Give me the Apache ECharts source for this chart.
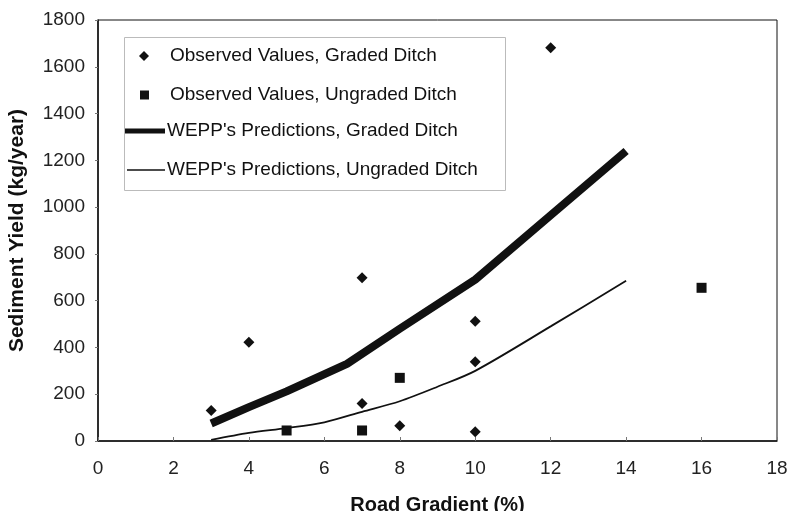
<!DOCTYPE html>
<html>
<head>
<meta charset="utf-8">
<script src="https://cdn.jsdelivr.net/npm/echarts@6/dist/echarts.min.js"></script>
<style>
html,body{margin:0;padding:0;background:#fff;}
#chart{width:791px;height:511px;}
</style>
</head>
<body>
<div id="chart"></div>
<script>
// ---- data ----
var xTicks = [0, 2, 4, 6, 8, 10, 12, 14, 16, 18];
var yTicks = [0, 200, 400, 600, 800, 1000, 1200, 1400, 1600, 1800];

var gradedObsX = [3, 4, 7, 7, 8, 10, 10, 10, 12];
var gradedObsY = [130, 422, 698, 160, 65, 512, 339, 40, 1681];

var ungradedObsX = [5, 7, 8, 16];
var ungradedObsY = [45, 45, 270, 655];

var gradedPredX = [3, 4, 5, 6.6, 8, 10, 12, 14];
var gradedPredY = [75, 145, 212, 330, 480, 690, 965, 1240];

var ungradedPredX = [3, 4, 5, 6, 7, 8, 9, 10, 12, 14];
var ungradedPredY = [5, 35, 55, 80, 125, 170, 232, 300, 490, 685];

var names = [
  'Observed Values, Graded Ditch',
  'Observed Values, Ungraded Ditch',
  "WEPP's Predictions, Graded Ditch",
  "WEPP's Predictions, Ungraded Ditch"
];

function zip(xs, ys) { return xs.map(function (x, i) { return [x, ys[i]]; }); }

var ink = '#111111';
var font = 'Liberation Sans, Arial, sans-serif';
function legText(padLeft) {
  return { color: ink, fontSize: 19, lineHeight: 20, fontFamily: font, padding: [0, 0, 0, padLeft] };
}

var chart = echarts.init(document.getElementById('chart'), null, { renderer: 'canvas' });
chart.setOption({
  backgroundColor: '#ffffff',
  animation: false,
  grid: { left: 98, right: 14, top: 20, bottom: 70, containLabel: false, outerBoundsMode: 'none',
    show: true, borderColor: ink, borderWidth: 1, backgroundColor: 'transparent' },
  xAxis: {
    type: 'value', min: 0, max: 18, interval: 2,
    name: 'Road Gradient (%)', nameLocation: 'middle', nameGap: 54,
    nameTextStyle: { color: ink, fontSize: 20, fontWeight: 'bold', fontFamily: font },
    axisLine: { lineStyle: { color: ink, width: 1.5 } },
    axisTick: { show: true, inside: true, length: 4, lineStyle: { color: '#777' } },
    axisLabel: { color: '#222', fontSize: 19, fontFamily: font, margin: 18,
      formatter: function (v) { return xTicks.indexOf(v) >= 0 ? String(v) : ''; } },
    splitLine: { show: false }
  },
  yAxis: {
    type: 'value', min: 0, max: 1800, interval: 200,
    name: 'Sediment Yield (kg/year)', nameLocation: 'middle', nameGap: 70, nameRotate: 90,
    nameTextStyle: { color: ink, fontSize: 21, fontWeight: 'bold', fontFamily: font },
    axisLine: { show: true, lineStyle: { color: ink, width: 1.5 } },
    axisTick: { show: true, length: 3, lineStyle: { color: '#777' } },
    axisLabel: { color: '#222', fontSize: 19, fontFamily: font, margin: 13,
      formatter: function (v) { return yTicks.indexOf(v) >= 0 ? String(v) : ''; } },
    splitLine: { show: false }
  },
  legend: [
    { data: [names[0]], left: 139, top: 46, padding: 0, icon: 'diamond', itemWidth: 10, itemHeight: 10,
      itemStyle: { color: ink }, textStyle: legText(16) },
    { data: [names[1]], left: 140, top: 85, padding: 0, icon: 'rect', itemWidth: 9, itemHeight: 9,
      itemStyle: { color: ink }, textStyle: legText(16) },
    { data: [names[2]], left: 125, top: 121, padding: 0, icon: 'rect', itemWidth: 40, itemHeight: 5,
      itemStyle: { color: ink }, textStyle: legText(-3) },
    { data: [names[3]], left: 127, top: 160, padding: 0, icon: 'rect', itemWidth: 38, itemHeight: 1.5,
      itemStyle: { color: ink }, textStyle: legText(-3) }
  ],
  graphic: [
    { type: 'rect', left: 122, top: 35, shape: { width: 381, height: 153 },
      style: { fill: 'none', stroke: '#bbb', lineWidth: 1 }, silent: true }
  ],
  series: [
    { name: names[0], type: 'scatter', symbol: 'diamond', symbolSize: 11,
      itemStyle: { color: ink, opacity: 1 }, data: zip(gradedObsX, gradedObsY), z: 5 },
    { name: names[1], type: 'scatter', symbol: 'rect', symbolSize: 10,
      itemStyle: { color: ink, opacity: 1 }, data: zip(ungradedObsX, ungradedObsY), z: 5 },
    { name: names[2], type: 'line', symbol: 'none', smooth: false,
      lineStyle: { color: ink, width: 8 }, itemStyle: { color: ink },
      data: zip(gradedPredX, gradedPredY), z: 3 },
    { name: names[3], type: 'line', symbol: 'none', smooth: 0.3,
      lineStyle: { color: ink, width: 1.8 }, itemStyle: { color: ink },
      data: zip(ungradedPredX, ungradedPredY), z: 3 }
  ]
});
</script>
</body>
</html>
